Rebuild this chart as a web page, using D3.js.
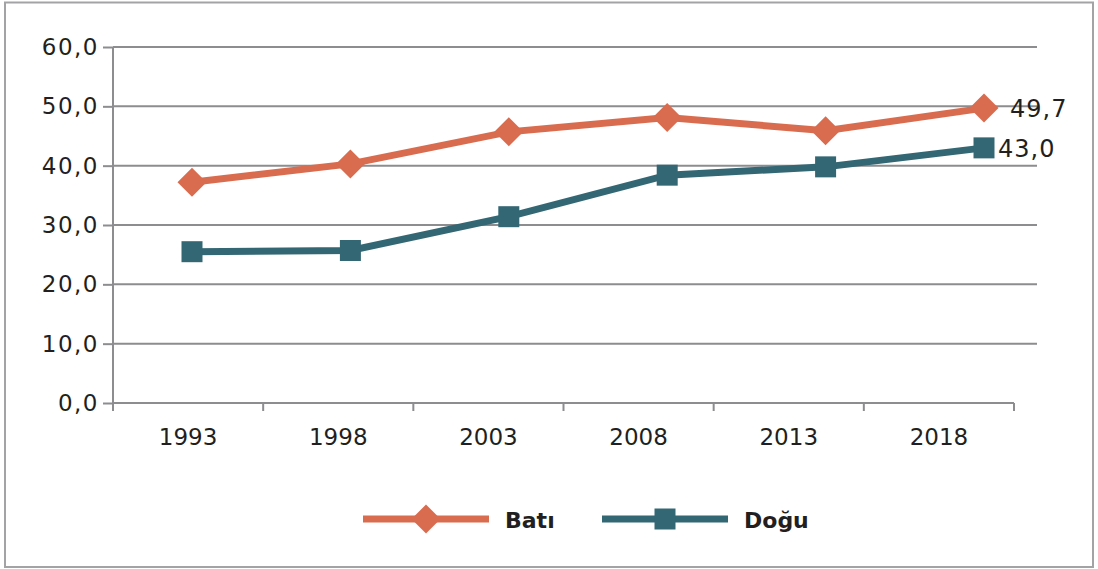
<!DOCTYPE html>
<html><head><meta charset="utf-8">
<script src="https://cdn.jsdelivr.net/npm/d3@7"></script>
<style>body{margin:0;background:#fff}svg{display:block}text{font-family:"DejaVu Sans",sans-serif;fill:#231f20}</style>
</head><body><svg id="c" width="1098" height="569"></svg>
<script>
const years = ["1993","1998","2003","2008","2013","2018"];
const bati = [37.2, 40.3, 45.7, 48.1, 45.9, 49.7];
const dogu = [25.5, 25.7, 31.4, 38.4, 39.8, 43.0];
const yTicks = [0,10,20,30,40,50,60];
const seriesNames = ["Batı","Doğu"];
const colors = ["#d96c4f","#336774"];

(function(){
const FONT = "DejaVu Sans";
const svg = d3.select("#c");
svg.append("rect").attr("x",5).attr("y",2.5).attr("width",1088).attr("height",564.5)
  .attr("fill","none").attr("stroke","#a3a3a5").attr("stroke-width",2);

const pLeft=113, axisRight=1014, gridRight=1037, pTop=47, pBottom=403;
const xBand = d3.scaleBand().domain(years).range([pLeft,axisRight]);
const xPt = d3.scalePoint().domain(years).range([192,984]);
const y = d3.scaleLinear().domain([0,60]).range([pBottom,pTop]);
const fmt = v => d3.format(".1f")(v).replace(".",",");

svg.append("g").selectAll("line").data(yTicks.filter(d=>d>0)).join("line")
  .attr("x1",pLeft).attr("x2",gridRight).attr("y1",d=>y(d)).attr("y2",d=>y(d))
  .attr("stroke","#8d8d90").attr("stroke-width",2);

const ya = svg.append("g").attr("transform",`translate(${pLeft},0)`)
  .call(d3.axisLeft(y).tickValues(yTicks).tickFormat(fmt).tickSize(10).tickPadding(4));
ya.select(".domain").attr("stroke","#8d8d90").attr("stroke-width",2).attr("d",`M0,${pBottom}V${pTop}`);
ya.selectAll(".tick line").attr("stroke","#8d8d90").attr("stroke-width",2);
ya.selectAll("text").attr("font-size",23).attr("fill","#231f20").attr("font-family",FONT).attr("letter-spacing",1.5);

const xa = svg.append("g").attr("transform",`translate(0,${pBottom})`)
  .call(d3.axisBottom(xBand).tickSize(0).tickPadding(26));
xa.select(".domain").attr("stroke","#8d8d90").attr("stroke-width",2).attr("d",`M${pLeft},0H${axisRight}`);
xa.selectAll("text").attr("font-size",23).attr("fill","#231f20").attr("font-family",FONT);
svg.append("g").selectAll("line").data(years.map(d=>xBand(d)).concat([xBand(years[years.length-1])+xBand.bandwidth()]))
  .join("line").attr("x1",d=>d).attr("x2",d=>d).attr("y1",pBottom).attr("y2",pBottom+8)
  .attr("stroke","#8d8d90").attr("stroke-width",2);

const line = d3.line().x((d,i)=>xPt(years[i])).y(d=>y(d));
const diamond = d3.symbol().type(d3.symbolSquare).size(420);
const square = d3.symbol().type(d3.symbolSquare).size(441);

[bati,dogu].forEach((vals,si)=>{
  svg.append("path").datum(vals).attr("d",line).attr("fill","none")
    .attr("stroke",colors[si]).attr("stroke-width",7);
  svg.append("g").selectAll("path").data(vals).join("path")
    .attr("d", si===0?diamond:square)
    .attr("transform",(d,i)=>`translate(${xPt(years[i])},${y(d)})` + (si===0?" rotate(45)":""))
    .attr("fill",colors[si]);
});

svg.append("text").attr("x",xPt("2018")+26).attr("y",y(bati[5])+9).attr("font-size",24).attr("letter-spacing",1).text(fmt(bati[5]));
svg.append("text").attr("x",xPt("2018")+14).attr("y",y(dogu[5])+9).attr("font-size",24).attr("letter-spacing",1).text(fmt(dogu[5]));

const legX = [363, 602], legY = 519;
seriesNames.forEach((n,i)=>{
  const g = svg.append("g").attr("transform",`translate(${legX[i]},${legY})`);
  g.append("line").attr("x1",0).attr("x2",126).attr("y1",0).attr("y2",0).attr("stroke",colors[i]).attr("stroke-width",7);
  g.append("path").attr("d", i===0?diamond:square).attr("transform", `translate(63,0)` + (i===0?" rotate(45)":"")).attr("fill",colors[i]);
  g.append("text").attr("x",142).attr("y",8.5).attr("font-size",22).attr("font-weight","bold").text(n);
});
})();
</script></body></html>
